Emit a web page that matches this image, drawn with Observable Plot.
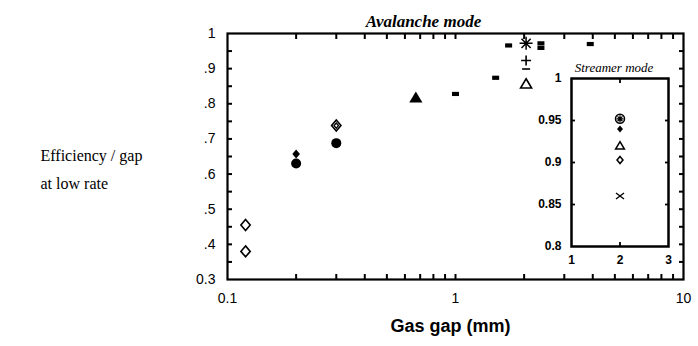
<!DOCTYPE html>
<html>
<head>
<meta charset="utf-8">
<script src="https://cdn.jsdelivr.net/npm/d3@7"></script>
<script src="https://cdn.jsdelivr.net/npm/@observablehq/plot@0.6"></script>
<style>
  body { margin: 0; background: #fff; }
  #chart { position: relative; width: 698px; height: 346px; }
  #inset { position: absolute; left: 520px; top: 50px; }
</style>
</head>
<body>
<div id="chart"><div id="main"></div><div id="inset"></div></div>
<script>
// ---- Avalanche mode: efficiency per gap vs gas gap (mm) ----
const openDiamondGap = [0.12, 0.12, 0.3];
const openDiamondEff = [0.455, 0.38, 0.738];
const innerDiamondGap = [0.3];
const innerDiamondEff = [0.738];
const filledDiamondGap = [0.2];
const filledDiamondEff = [0.657];
const filledCircleGap = [0.2, 0.3];
const filledCircleEff = [0.63, 0.688];
const filledTriangleGap = [0.67];
const filledTriangleEff = [0.818];
const squareGap = [1.0, 1.5, 1.71, 2.37, 2.37, 3.9];
const squareEff = [0.828, 0.874, 0.966, 0.972, 0.959, 0.97];
const asteriskGap = [2.04];
const asteriskEff = [0.972];
const plusGap = [2.04];
const plusEff = [0.923];
const minusGap = [2.04];
const minusEff = [0.899];
const openTriangleGap = [2.04];
const openTriangleEff = [0.857];

// axis ticks and labels (main panel)
const xTickValues = [0.1, 1, 10];
const xTickLabels = ["0.1", "1", "10"];
const xMinorTicks = [0.2, 0.3, 0.4, 0.5, 0.6, 0.7, 0.8, 0.9, 1, 2, 3, 4, 5, 6, 7, 8, 9];
const yTickValues = [0.3, 0.4, 0.5, 0.6, 0.7, 0.8, 0.9, 1];
const yTickLabels = ["0.3", ".4", ".5", ".6", ".7", ".8", ".9", "1"];
const yMinorTicks = [0.35, 0.4, 0.45, 0.5, 0.55, 0.6, 0.65, 0.7, 0.75, 0.8, 0.85, 0.9, 0.95];

// ---- Streamer mode inset (all at 2 mm gap) ----
const streamerCircleGap = [2];
const streamerCircleEff = [0.952];
const streamerFilledDiamondGap = [2];
const streamerFilledDiamondEff = [0.94];
const streamerTriangleGap = [2];
const streamerTriangleEff = [0.92];
const streamerDiamondGap = [2];
const streamerDiamondEff = [0.903];
const streamerTimesGap = [2];
const streamerTimesEff = [0.86];

const insetXTicks = [1, 2, 3];
const insetXLabels = ["1", "2", "3"];
const insetXMinor = [2];
const insetYTicks = [0.8, 0.85, 0.9, 0.95, 1];
const insetYLabels = ["0.8", "0.85", "0.9", "0.95", "1"];
const insetYMinor = [0.85, 0.9, 0.95];

const pts = (xs, ys) => xs.map((x, i) => ({x, y: ys[i]}));
const lookup = (vals, labels) => d => labels[vals.indexOf(d)] ?? "";
const blank = () => "";

// inward tick marks on the four sides of a frame
function inwardTicks(xs, ys, len, width) {
  const common = {tickSize: len, tickFormat: blank, label: null, stroke: "black", strokeWidth: width};
  return [
    Plot.axisX({...common, anchor: "bottom", ticks: xs, dy: -len}),
    Plot.axisX({...common, anchor: "top", ticks: xs, dy: len}),
    Plot.axisY({...common, anchor: "left", ticks: ys, dx: len}),
    Plot.axisY({...common, anchor: "right", ticks: ys, dx: -len})
  ];
}

// custom marker shapes; r is the half-extent of the marker
const sym = f => ({draw(ctx, size) { f(ctx, Math.sqrt(size / Math.PI)); }});
const diamond = sym((c, r) => { c.moveTo(0, -r); c.lineTo(r * 0.85, 0); c.lineTo(0, r); c.lineTo(-r * 0.85, 0); c.closePath(); });
const bar = sym((c, r) => { c.rect(-r, -r * 0.6, 2 * r, 1.2 * r); });
const triangle = sym((c, r) => { c.moveTo(0, -r); c.lineTo(r * 1.1, r * 0.85); c.lineTo(-r * 1.1, r * 0.85); c.closePath(); });
const plus = sym((c, r) => { c.moveTo(-r, 0); c.lineTo(r, 0); c.moveTo(0, -r); c.lineTo(0, r); });
const minus = sym((c, r) => { c.moveTo(-r, 0); c.lineTo(r, 0); });
const times = sym((c, r) => { c.moveTo(-r, -r * 0.75); c.lineTo(r, r * 0.75); c.moveTo(-r, r * 0.75); c.lineTo(r, -r * 0.75); });
const asterisk = sym((c, r) => {
  for (let k = 0; k < 4; k++) {
    const a = k * Math.PI / 4;
    c.moveTo(-r * Math.cos(a), -r * Math.sin(a));
    c.lineTo(r * Math.cos(a), r * Math.sin(a));
  }
});

const sans = '"Liberation Sans", Arial, Helvetica, sans-serif';
const serif = '"Liberation Serif", "Times New Roman", Times, serif';

const W = 698, H = 346;
const mL = 227, mR = 15, mT = 33, mB = 67;

const main = Plot.plot({
  width: W, height: H,
  marginLeft: mL, marginRight: mR, marginTop: mT, marginBottom: mB,
  x: {type: "log", domain: [0.1, 10]},
  y: {domain: [0.3, 1]},
  style: {fontFamily: sans, fontSize: "14px", background: "white", color: "black", overflow: "visible"},
  marks: [
    ...inwardTicks(xMinorTicks, yMinorTicks, 5, 2),
    Plot.frame({stroke: "black", strokeWidth: 2.2}),
    Plot.axisX({ticks: xTickValues, tickFormat: lookup(xTickValues, xTickLabels), tickSize: 0, tickPadding: 14, label: null, fontSize: 14}),
    Plot.axisY({ticks: yTickValues, tickFormat: lookup(yTickValues, yTickLabels), tickSize: 0, tickPadding: 12, label: null, fontSize: 14}),

    // data markers
    Plot.dot(pts(openDiamondGap, openDiamondEff), {x: "x", y: "y", symbol: diamond, r: 5.5, fill: "white", stroke: "black", strokeWidth: 1.6}),
    Plot.dot(pts(innerDiamondGap, innerDiamondEff), {x: "x", y: "y", symbol: diamond, r: 2.6, fill: "white", stroke: "black", strokeWidth: 1.3}),
    Plot.dot(pts(filledDiamondGap, filledDiamondEff), {x: "x", y: "y", symbol: diamond, r: 4.5, fill: "black"}),
    Plot.dot(pts(filledCircleGap, filledCircleEff), {x: "x", y: "y", r: 5, fill: "black"}),
    Plot.dot(pts(filledTriangleGap, filledTriangleEff), {x: "x", y: "y", symbol: triangle, r: 6, fill: "black"}),
    Plot.dot(pts(squareGap, squareEff), {x: "x", y: "y", symbol: bar, r: 3.5, fill: "black"}),
    Plot.dot(pts(asteriskGap, asteriskEff), {x: "x", y: "y", symbol: asterisk, r: 6.5, stroke: "black", strokeWidth: 1.5}),
    Plot.dot(pts(plusGap, plusEff), {x: "x", y: "y", symbol: plus, r: 5, stroke: "black", strokeWidth: 1.6}),
    Plot.dot(pts(minusGap, minusEff), {x: "x", y: "y", symbol: minus, r: 4, stroke: "black", strokeWidth: 1.6}),
    Plot.dot(pts(openTriangleGap, openTriangleEff), {x: "x", y: "y", symbol: triangle, r: 5, fill: "white", stroke: "black", strokeWidth: 1.6}),

    // titles
    Plot.text(["Avalanche mode"], {frameAnchor: "top", dx: -32, dy: -19, fontSize: 17, fontWeight: "bold", fontStyle: "italic", fontFamily: serif}),
    Plot.text(["Gas gap (mm)"], {frameAnchor: "bottom", dx: -5, dy: 52, fontSize: 18, fontWeight: "bold", fontFamily: sans}),
    Plot.text(["Efficiency / gap\nat low rate"], {frameAnchor: "left", dx: 40 - mL, dy: 10, textAnchor: "start", lineHeight: 1.75, fontSize: 16, fontFamily: serif})
  ]
});
document.getElementById("main").append(main);

// inset panel
const iW = 160, iH = 220, iL = 51, iR = 12, iT = 28, iB = 24;
const inset = Plot.plot({
  width: iW, height: iH,
  marginLeft: iL, marginRight: iR, marginTop: iT, marginBottom: iB,
  x: {domain: [1, 3]},
  y: {domain: [0.8, 1]},
  style: {fontFamily: sans, fontSize: "12px", background: "transparent", color: "black", overflow: "visible"},
  marks: [
    Plot.frame({fill: "white", stroke: null}),
    ...inwardTicks(insetXMinor, insetYMinor, 4, 1.8),
    Plot.frame({stroke: "black", strokeWidth: 2.5}),
    Plot.axisX({ticks: insetXTicks, tickFormat: lookup(insetXTicks, insetXLabels), tickSize: 0, tickPadding: 9, label: null, fontSize: 12, fontWeight: "bold"}),
    Plot.axisY({ticks: insetYTicks, tickFormat: lookup(insetYTicks, insetYLabels), tickSize: 0, tickPadding: 10, label: null, fontSize: 12, fontWeight: "bold"}),
    Plot.dot(pts(streamerCircleGap, streamerCircleEff), {x: "x", y: "y", r: 4.5, fill: "white", stroke: "black", strokeWidth: 1.5}),
    Plot.dot(pts(streamerCircleGap, streamerCircleEff), {x: "x", y: "y", symbol: asterisk, r: 3.5, stroke: "black", strokeWidth: 1.2}),
    Plot.dot(pts(streamerFilledDiamondGap, streamerFilledDiamondEff), {x: "x", y: "y", symbol: diamond, r: 3.5, fill: "black"}),
    Plot.dot(pts(streamerTriangleGap, streamerTriangleEff), {x: "x", y: "y", symbol: triangle, r: 4, fill: "white", stroke: "black", strokeWidth: 1.5}),
    Plot.dot(pts(streamerDiamondGap, streamerDiamondEff), {x: "x", y: "y", symbol: diamond, r: 3.5, fill: "white", stroke: "black", strokeWidth: 1.5}),
    Plot.dot(pts(streamerTimesGap, streamerTimesEff), {x: "x", y: "y", symbol: times, r: 4, stroke: "black", strokeWidth: 1.3}),
    Plot.text(["Streamer mode"], {frameAnchor: "top", dx: -6, dy: -16, fontSize: 13, fontStyle: "italic", fontFamily: serif})
  ]
});
document.getElementById("inset").append(inset);
</script>
</body>
</html>
